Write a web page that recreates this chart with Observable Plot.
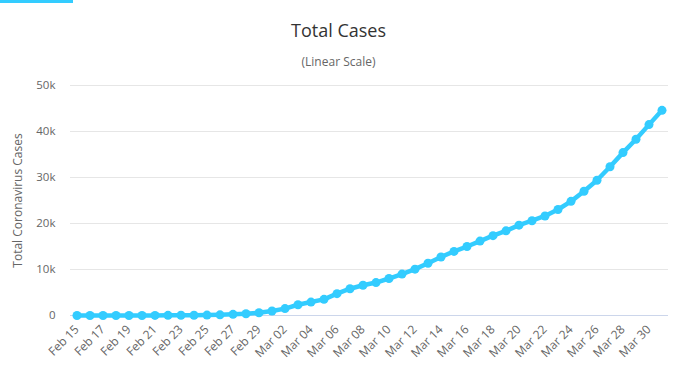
<!DOCTYPE html>
<html>
<head>
<meta charset="utf-8">
<script src="https://cdn.jsdelivr.net/npm/d3@7"></script>
<script src="https://cdn.jsdelivr.net/npm/@observablehq/plot@0.6"></script>
<style>
  html, body { margin: 0; padding: 0; background: #fff; }
  body { width: 687px; height: 375px; position: relative; overflow: hidden; font-family: "Open Sans", sans-serif; }
  #bar { position: absolute; left: 0; top: 0; width: 73px; height: 3px; background: #33ccff; }
  #title { position: absolute; left: 0; top: 18px; width: 677px; text-align: center; font-size: 18px; color: #333333; line-height: 24px; }
  #subtitle { position: absolute; left: 0; top: 54px; width: 677px; text-align: center; font-size: 12px; color: #666666; line-height: 16px; }
  #chart { position: absolute; left: 0; top: 75px; }
</style>
</head>
<body>
<div id="bar"></div>
<div id="title">Total Cases</div>
<div id="subtitle">(Linear Scale)</div>
<div id="chart"></div>
<script>
const dates = [
  "2020-02-15","2020-02-16","2020-02-17","2020-02-18","2020-02-19","2020-02-20","2020-02-21","2020-02-22",
  "2020-02-23","2020-02-24","2020-02-25","2020-02-26","2020-02-27","2020-02-28","2020-02-29",
  "2020-03-01","2020-03-02","2020-03-03","2020-03-04","2020-03-05","2020-03-06","2020-03-07","2020-03-08",
  "2020-03-09","2020-03-10","2020-03-11","2020-03-12","2020-03-13","2020-03-14","2020-03-15","2020-03-16",
  "2020-03-17","2020-03-18","2020-03-19","2020-03-20","2020-03-21","2020-03-22","2020-03-23","2020-03-24",
  "2020-03-25","2020-03-26","2020-03-27","2020-03-28","2020-03-29","2020-03-30","2020-03-31"
];
const totalCases = [
  0, 0, 0, 0, 2, 5, 18, 28,
  43, 61, 95, 139, 245, 388, 593,
  978, 1501, 2336, 2922, 3513, 4747, 5823, 6566,
  7161, 8042, 9000, 10075, 11364, 12729, 13938, 14991,
  16169, 17361, 18407, 19644, 20610, 21638, 23049, 24811,
  27017, 29406, 32332, 35408, 38309, 41495, 44605
];
const yTicks = [0, 10000, 20000, 30000, 40000, 50000];
const yTickLabels = ["0", "10k", "20k", "30k", "40k", "50k"];
const xTickLabels = ["Feb 15","Feb 17","Feb 19","Feb 21","Feb 23","Feb 25","Feb 27","Feb 29",
  "Mar 02","Mar 04","Mar 06","Mar 08","Mar 10","Mar 12","Mar 14","Mar 16","Mar 18","Mar 20",
  "Mar 22","Mar 24","Mar 26","Mar 28","Mar 30"];

const parse = d3.utcParse("%Y-%m-%d");
const data = dates.map((d, i) => ({date: parse(d), cases: totalCases[i]}));
const fmt = d3.utcFormat("%b %d");
const xTicks = data.map(d => d.date).filter(d => xTickLabels.includes(fmt(d)));
const color = "#33ccff";

const chart = Plot.plot({
  width: 687,
  height: 300,
  marginLeft: 70,
  marginRight: 19,
  marginTop: 10,
  marginBottom: 60,
  style: {fontFamily: "Open Sans, sans-serif", fontSize: "11px", color: "#666666", background: "transparent"},
  x: {
    type: "utc",
    domain: [new Date(Date.UTC(2020, 1, 14, 12)), new Date(Date.UTC(2020, 2, 31, 12))],
    label: null
  },
  y: {domain: [0, 50000], label: null},
  marks: [
    Plot.gridY(yTicks, {stroke: "#e6e6e6", strokeOpacity: 1}),
    Plot.ruleY([0], {stroke: "#ccd6eb", strokeWidth: 1}),
    Plot.axisY(yTicks, {tickSize: 0, tickPadding: 15, tickFormat: (d) => yTickLabels[yTicks.indexOf(d)], fill: "#666666", fontSize: 11.5}),
    Plot.axisX(xTicks, {tickSize: 0, tickPadding: 12, tickRotate: -45, tickFormat: fmt, fill: "#666666", fontSize: 12}),
    Plot.line(data, {x: "date", y: "cases", stroke: color, strokeWidth: 4.5, curve: "linear"}),
    Plot.dot(data, {x: "date", y: "cases", fill: color, r: 4.5, stroke: "none"}),
    Plot.text(["Total Coronavirus Cases"], {frameAnchor: "left", dx: -52, rotate: -90, textAnchor: "middle", fill: "#666666", fontSize: 12})
  ]
});
document.getElementById("chart").appendChild(chart);
</script>
</body>
</html>
